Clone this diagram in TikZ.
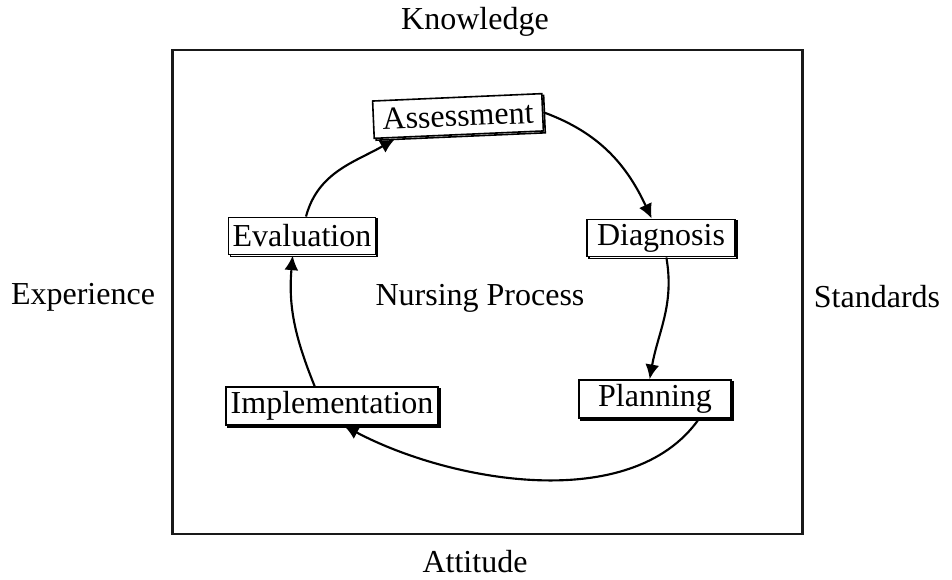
\documentclass[tikz,border=0pt]{standalone}
\usepackage{fontspec}
\setmainfont{Liberation Serif}
\usetikzlibrary{arrows.meta, shadows}

\begin{document}
\begin{tikzpicture}[
    x=0.75pt, y=0.75pt,
    every node/.style={font=\fontsize{24}{28}\selectfont},
    frame/.style ={rectangle, draw=black!90, line width=2.2pt, minimum width=473pt, minimum height=363pt},
    stage/.style ={rectangle, draw=black, fill=white, line width=1.2pt, inner xsep=3pt, minimum height=28pt,
                   copy shadow={shadow xshift=1.4pt, shadow yshift=-1.4pt}},
    factor/.style={inner sep=0pt},
    arrow/.style ={-{Latex[length=11pt, width=10.5pt]}, line width=1.6pt}
]
\useasboundingbox (0,0) rectangle (952,-580);
\node[frame] (frame) at (487.5,-292) {};
\node[factor] (know) at (475,-22) {Knowledge};
\node[factor] (exp) at (83,-297) {Experience};
\node[factor] (stand) at (877,-297) {Standards};
\node[factor] (att) at (475,-562) {Attitude};
\node[factor] (np) at (480,-298) {Nursing Process};
\node[stage, rotate=2.5, minimum width=127pt] (ass) at (458,-116) {Assessment};
\node[stage, minimum width=111pt] (diag) at (661,-238) {Diagnosis};
\node[stage, minimum width=114pt] (plan) at (655,-399) {Planning};
\node[stage, minimum width=159pt] (impl) at (332,-406) {Implementation};
\node[stage, minimum width=110pt] (eval) at (302,-236) {Evaluation};
\draw[arrow] (ass.east) to[out=-20, in=115] ([xshift=-7pt]diag.north);
\draw[arrow] ([xshift=4pt]diag.south) to[out=-80, in=80] ([xshift=-4pt]plan.north);
\draw[arrow] ([xshift=33pt]plan.south) to[out=-125, in=-28, looseness=0.85] ([xshift=9pt]impl.south);
\draw[arrow] ([xshift=-13pt]impl.north) to[out=112, in=-95] ([xshift=-7pt]eval.south);
\draw[arrow] ([xshift=3pt]eval.north) to[out=75, in=-150] ([xshift=16pt]ass.south west);
\end{tikzpicture}
\end{document}
